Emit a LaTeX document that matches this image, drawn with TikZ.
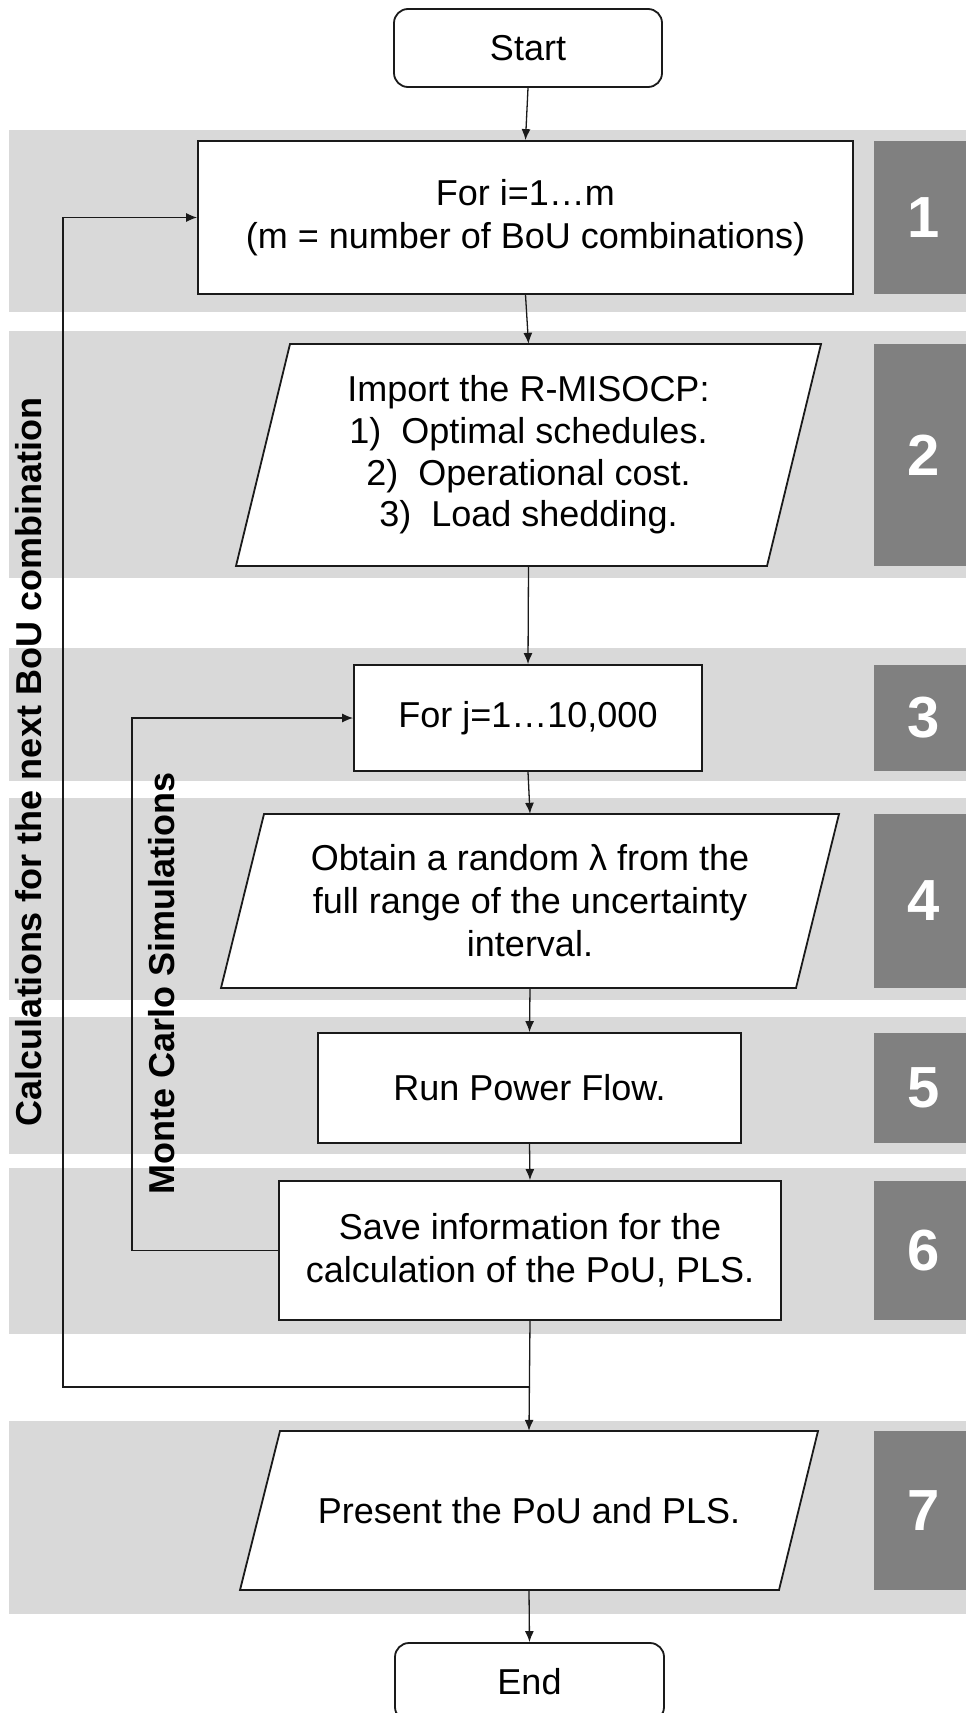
\documentclass[tikz,border=0pt]{standalone}
\usepackage{fontspec}
\setmainfont{Liberation Sans}
\usetikzlibrary{arrows.meta,calc}
\definecolor{bandgray}{HTML}{D9D9D9}
\definecolor{numgray}{HTML}{808080}
\definecolor{edge}{HTML}{1A1A1A}
\begin{document}
\begin{tikzpicture}[x=1pt,y=-1pt,
  every node/.style={font=\fontsize{36}{43}\selectfont, align=center, inner sep=0pt},
  box/.style={draw=edge, line width=1.8pt, fill=white, rectangle},
  term/.style={box, rounded corners=14pt},
  ghost/.style={rectangle, minimum width=300pt},
  conn/.style={draw=edge, line width=1.3pt, -{Latex[length=11pt,width=9pt]}},
  wire/.style={draw=edge, line width=1.3pt},
  numbox/.style={fill=numgray, text=white, minimum width=101pt, font=\fontsize{58}{60}\selectfont\bfseries},
  bandbg/.style={fill=bandgray},
  sidelabel/.style={font=\fontsize{36}{40}\selectfont\bfseries, rotate=90}]
\useasboundingbox (0,0) rectangle (966,1713);
\fill[white] (0,0) rectangle (966,1713);
% bands
\fill[bandbg] (9,130) rectangle (966,312);
\fill[bandbg] (9,331) rectangle (966,578);
\fill[bandbg] (9,648) rectangle (966,781);
\fill[bandbg] (9,798) rectangle (966,1000);
\fill[bandbg] (9,1017) rectangle (966,1154);
\fill[bandbg] (9,1168) rectangle (966,1334);
\fill[bandbg] (9,1421) rectangle (966,1614);
% number boxes
\node[numbox, minimum height=153pt] (n1) at (924,217.5) {1};
\node[numbox, minimum height=222pt] (n2) at (924,455) {2};
\node[numbox, minimum height=106pt] (n3) at (924,718) {3};
\node[numbox, minimum height=174pt] (n4) at (924,901) {4};
\node[numbox, minimum height=110pt] (n5) at (924,1088) {5};
\node[numbox, minimum height=139pt] (n6) at (924,1250.5) {6};
\node[numbox, minimum height=159pt] (n7) at (924,1510.5) {7};
% parallelogram outlines
\draw[box] (290,344) -- (821,344) -- (767,566) -- (236,566) -- cycle;
\draw[box] (264,814) -- (839,814) -- (796,988) -- (221,988) -- cycle;
\draw[box] (280,1431) -- (818,1431) -- (779,1590) -- (240,1590) -- cycle;
% nodes
\node[term, minimum width=268pt, minimum height=78pt] (start) at (528,48) {Start};
\node[box, minimum width=655pt, minimum height=153pt] (b1) at (525.5,217.5) {For i=1…m\\(m = number of BoU combinations)};
\node[ghost, minimum height=222pt] (p2) at (528.5,455) {\raisebox{-4pt}{\shortstack{Import the R-MISOCP:\\[5pt]1)\ \ Optimal schedules.\\[5pt]2)\ \ Operational cost.\\[5pt]3)\ \ Load shedding.}}};
\node[box, minimum width=348pt, minimum height=106pt] (b3) at (528,718) {For j=1…10,000};
\node[ghost, minimum height=174pt] (p4) at (530,901) {Obtain a random λ from the\\full range of the uncertainty\\interval.};
\node[box, minimum width=423pt, minimum height=110pt] (b5) at (529.5,1088) {Run Power Flow.};
\node[box, minimum width=502pt, minimum height=139pt] (b6) at (530,1250.5) {Save information for the\\calculation of the PoU, PLS.};
\node[ghost, minimum height=159pt] (p7) at (529,1510.5) {Present the PoU and PLS.};
\node[term, minimum width=269pt, minimum height=78pt] (end) at (529.5,1682) {End};
% side labels
\node[sidelabel] (lab1) at (29,762) {Calculations for the next BoU combination};
\node[sidelabel] (lab2) at (162,983) {Monte Carlo Simulations};
% connectors
\draw[conn] (start.south) -- (b1.north);
\draw[conn] (b1.south) -- (p2.north);
\draw[conn] (p2.south) -- (b3.north);
\draw[conn] (b3.south) -- (p4.north);
\draw[conn] (p4.south) -- (b5.north);
\draw[conn] (b5.south) -- (b6.north);
\draw[conn] (b6.south) -- (p7.north);
\draw[conn] (p7.south) -- (end.north);
\coordinate (join) at (530,1387);
\coordinate (outer) at (63,1387);
\draw[conn] (join) -- (outer) |- (b1.west);
\coordinate (inner) at (132,1250.5);
\draw[conn] (b6.west) -- (inner) |- (b3.west);
\end{tikzpicture}
\end{document}
